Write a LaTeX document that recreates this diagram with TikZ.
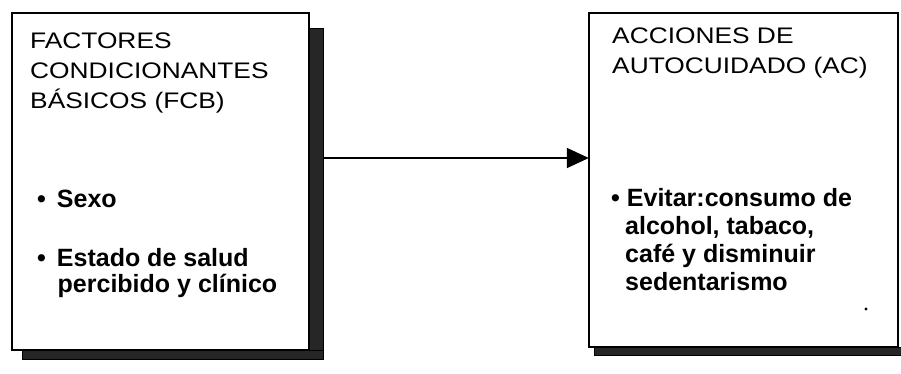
\documentclass[tikz,border=0pt]{standalone}
\usepackage{fontspec}
\setmainfont{Liberation Sans}
\newfontfamily\headfont[FakeStretch=1.17]{Liberation Sans}
\usetikzlibrary{arrows.meta}

\tikzset{
  panel/.style={draw=black, line width=1.8pt, fill=white, inner sep=0pt},
  shade/.style={fill=black!85, draw=black, line width=1pt},
  heading/.style={anchor=base west, inner sep=0pt, font=\headfont\fontsize{22.5}{27}\selectfont},
  item/.style={anchor=base west, inner sep=0pt, font=\bfseries\fontsize{25}{28}\selectfont},
  link/.style={line width=1.8pt, -{Triangle[length=22pt,width=20pt]}}
}

\begin{document}
\begin{tikzpicture}[x=1pt, y=-1pt]
  \useasboundingbox (0,0) rectangle (901,373);

  % connector between the two panels (its start is hidden under the shadow)
  \coordinate (src) at (309,158);
  \node[inner sep=0pt, minimum size=0pt] (dst) at (589,158) {};
  \draw[link] (src) -- (dst);

  % drop shadows
  \fill[shade] (309,28) rectangle (323,359);
  \fill[shade] (22,350) rectangle (323,359);
  \fill[shade] (594,347) rectangle (901,355);

  % panels
  \node[panel, minimum width=297pt, minimum height=337pt] (fcb) at (160.5,181.5) {};
  \node[panel, minimum width=309pt, minimum height=334pt] (ac) at (743.5,180) {};

  % left panel text
  \node[heading] (fcb1) at (30,48) {FACTORES};
  \node[heading] (fcb2) at (30,78) {CONDICIONANTES};
  \node[heading] (fcb3) at (30,108) {BÁSICOS (FCB)};
  \node[item] (sexo) at (37,207) {•\hspace{11pt}Sexo};
  \node[item] (salud1) at (37,266) {•\hspace{11pt}Estado de salud};
  \node[item] (salud2) at (57.5,292) {percibido y clínico};

  % right panel text
  \node[heading] (ac1) at (612,43) {ACCIONES DE};
  \node[heading] (ac2) at (612,73) {AUTOCUIDADO (AC)};
  \node[item] (ev1) at (611,206) {•\hspace{7pt}Evitar:consumo de};
  \node[item] (ev2) at (625,234) {alcohol, tabaco,};
  \node[item] (ev3) at (625,262) {café y disminuir};
  \node[item] (ev4) at (625,290) {sedentarismo};

  % small speck in the right panel
  \fill (866,309) circle (1.6pt);
\end{tikzpicture}
\end{document}
